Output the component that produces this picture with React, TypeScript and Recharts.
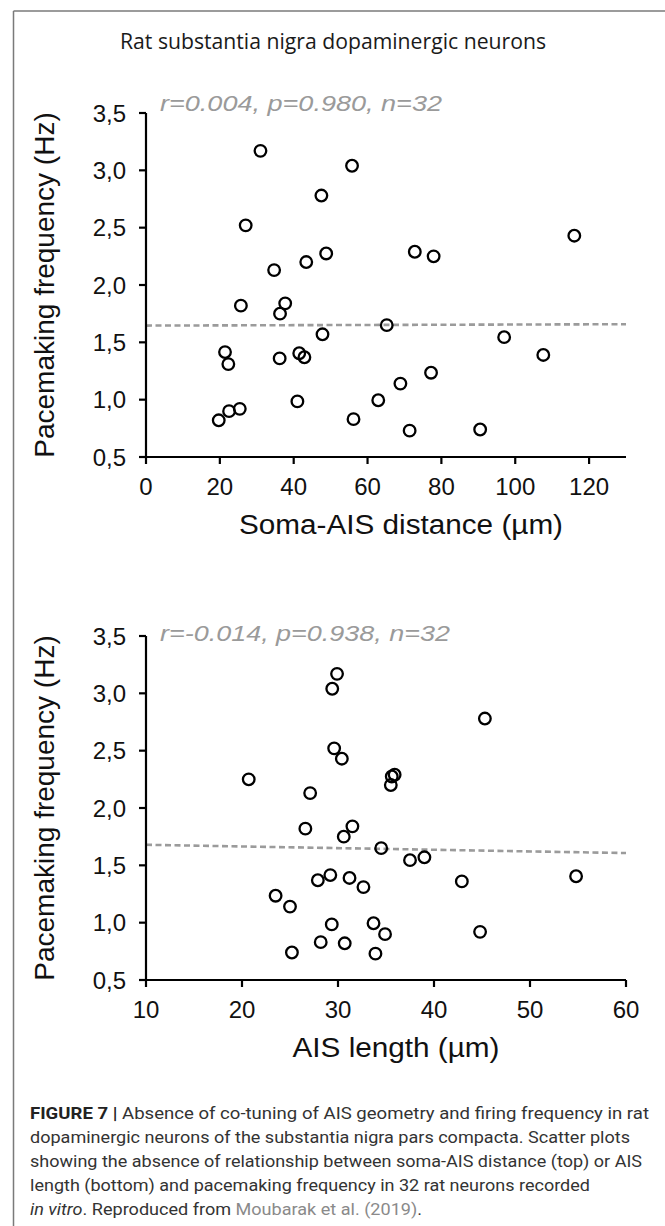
import React from "react";
import { ScatterChart, Scatter, XAxis, YAxis, ReferenceLine } from "recharts";

// pacemaking frequency of the 32 rat SNc neurons (Hz)
const freqHz = [
  3.17, 3.04, 2.78, 2.52, 2.43, 2.29, 2.275, 2.25, 2.2, 2.13, 1.84, 1.82, 1.75, 1.65, 1.57, 1.545,
  1.415, 1.405, 1.39, 1.37, 1.36, 1.31, 1.235, 1.14, 0.995, 0.985, 0.92, 0.9, 0.83, 0.82, 0.74, 0.73,
];
// soma-AIS distance (µm), same neuron order
const somaAisDist = [
  31.0, 55.8, 47.5, 27.0, 116.0, 72.8, 48.8, 77.9, 43.4, 34.7, 37.7, 25.7, 36.3, 65.2, 47.8, 97.0,
  21.4, 41.5, 107.6, 42.9, 36.2, 22.3, 77.2, 68.9, 62.9, 41.0, 25.4, 22.5, 56.2, 19.7, 90.5, 71.4,
];
// AIS length (µm), same neuron order
const aisLength = [
  29.9, 29.4, 45.3, 29.6, 30.4, 35.9, 35.6, 20.7, 35.5, 27.1, 31.5, 26.6, 30.6, 34.5, 39.0, 37.5,
  29.2, 54.8, 31.2, 27.9, 42.9, 32.65, 23.5, 25.0, 33.7, 29.35, 44.8, 34.9, 28.2, 30.7, 25.2, 33.9,
];

// linear fits (end points)
const distFitX = [0, 130];
const distFitY = [1.646, 1.658];
const lenFitX = [10, 60];
const lenFitY = [1.679, 1.607];

const freqTicks = [0.5, 1.0, 1.5, 2.0, 2.5, 3.0, 3.5];
const distTicks = [0, 20, 40, 60, 80, 100, 120];
const lenTicks = [10, 20, 30, 40, 50, 60];

const topStats = "r=0.004, p=0.980, n=32";
const bottomStats = "r=-0.014, p=0.938, n=32";

const distData = somaAisDist.map((x, i) => ({ x, y: freqHz[i] }));
const lenData = aisLength.map((x, i) => ({ x, y: freqHz[i] }));

const FONT = "'Liberation Sans', Arial, sans-serif";
const fmtComma = (v: number) => v.toFixed(1).replace(".", ",");

const Ring = (props: any) => {
  if (props.cx == null || props.cy == null) return null;
  return <circle cx={props.cx} cy={props.cy} r={5.8} fill="none" stroke="#000" strokeWidth={2.3} />;
};

const yLabel = (props: any) => {
  const vb = props.viewBox || {};
  const cy = vb.y + vb.height / 2;
  return (
    <text
      x={54}
      y={cy}
      transform={`rotate(-90 54 ${cy})`}
      textAnchor="middle"
      fontSize={28}
      fontFamily={FONT}
      fill="#111"
    >
      Pacemaking frequency (Hz)
    </text>
  );
};

const xLabel = (text: string, cx: number, w: number) => (props: any) => {
  const vb = props.viewBox || {};
  return (
    <text
      x={cx - w / 2}
      y={vb.y + 77}
      textLength={w}
      lengthAdjust="spacingAndGlyphs"
      fontSize={27}
      fontFamily={FONT}
      fill="#111"
    >
      {text}
    </text>
  );
};

type PanelProps = {
  data: { x: number; y: number }[];
  domain: [number, number];
  ticks: number[];
  fitX: number[];
  fitY: number[];
  title: string;
  titleX: number;
  titleW: number;
};

const Panel = ({ data, domain, ticks, fitX, fitY, title, titleX, titleW }: PanelProps) => (
  <ScatterChart width={665} height={560} margin={{ top: 113, right: 39, bottom: 0, left: 0 }}>
    <XAxis
      type="number"
      dataKey="x"
      domain={domain}
      ticks={ticks}
      interval={0}
      height={103}
      axisLine={{ stroke: "#000", strokeWidth: 2.2 }}
      tickLine={{ stroke: "#000", strokeWidth: 2.2 }}
      tickSize={7}
      tickMargin={14}
      tick={{ fontSize: 24, fill: "#111", fontFamily: FONT }}
      label={xLabel(title, titleX, titleW)}
    />
    <YAxis
      type="number"
      dataKey="y"
      domain={[0.5, 3.5]}
      ticks={freqTicks}
      interval={0}
      width={146}
      tickFormatter={fmtComma}
      axisLine={{ stroke: "#000", strokeWidth: 2.2 }}
      tickLine={{ stroke: "#000", strokeWidth: 2.2 }}
      tickSize={7}
      tickMargin={13}
      tick={{ fontSize: 24, fill: "#111", fontFamily: FONT }}
      label={yLabel}
    />
    <ReferenceLine
      segment={[
        { x: fitX[0], y: fitY[0] },
        { x: fitX[1], y: fitY[1] },
      ]}
      stroke="#9b9b9b"
      strokeWidth={2.6}
      strokeDasharray="6 3.5"
    />
    <Scatter data={data} shape={Ring} isAnimationActive={false} />
  </ScatterChart>
);

const CAP = "Roboto, 'Open Sans', sans-serif";

export default function App() {
  return (
    <div style={{ position: "absolute", left: 0, top: 0, width: 665, height: 1226, background: "#fff" }}>
      <div style={{ position: "absolute", left: 0, top: 0 }}>
        <Panel
          data={distData}
          domain={[0, 130]}
          ticks={distTicks}
          fitX={distFitX}
          fitY={distFitY}
          title="Soma-AIS distance (µm)"
          titleX={401}
          titleW={324}
        />
      </div>
      <div style={{ position: "absolute", left: 0, top: 523 }}>
        <Panel
          data={lenData}
          domain={[10, 60]}
          ticks={lenTicks}
          fitX={lenFitX}
          fitY={lenFitY}
          title="AIS length (µm)"
          titleX={396}
          titleW={207}
        />
      </div>
      <svg
        width={665}
        height={1226}
        style={{ position: "absolute", left: 0, top: 0, pointerEvents: "none" }}
      >
        <line x1={13.5} y1={11} x2={665} y2={11} stroke="#7a7a7a" strokeWidth={1.5} />
        <line x1={13.5} y1={11} x2={13.5} y2={1226} stroke="#7a7a7a" strokeWidth={1.5} />
        <text
          x={120}
          y={49}
          textLength={426}
          lengthAdjust="spacingAndGlyphs"
          fontSize={22}
          fontFamily="'Open Sans', sans-serif"
          fill="#1a1a1a"
        >
          Rat substantia nigra dopaminergic neurons
        </text>
        <text
          x={160}
          y={111}
          textLength={282}
          lengthAdjust="spacingAndGlyphs"
          fontSize={22.5}
          fontStyle="italic"
          fontFamily={FONT}
          fill="#9a9a9a"
        >
          {topStats}
        </text>
        <text
          x={160}
          y={641}
          textLength={290}
          lengthAdjust="spacingAndGlyphs"
          fontSize={22.5}
          fontStyle="italic"
          fontFamily={FONT}
          fill="#9a9a9a"
        >
          {bottomStats}
        </text>
        <g fontFamily={CAP} fontSize={17} fill="#333">
          <text x={30} y={1119} textLength={619} lengthAdjust="spacingAndGlyphs">
            <tspan fontWeight="bold" fill="#222">FIGURE 7</tspan>
            <tspan fontWeight="bold" fill="#222">{"  |  "}</tspan>
            Absence of co-tuning of AIS geometry and firing frequency in rat
          </text>
          <text x={30} y={1143} textLength={600} lengthAdjust="spacingAndGlyphs">
            dopaminergic neurons of the substantia nigra pars compacta. Scatter plots
          </text>
          <text x={30} y={1167} textLength={612} lengthAdjust="spacingAndGlyphs">
            showing the absence of relationship between soma-AIS distance (top) or AIS
          </text>
          <text x={30} y={1191} textLength={560} lengthAdjust="spacingAndGlyphs">
            length (bottom) and pacemaking frequency in 32 rat neurons recorded
          </text>
          <text x={30} y={1215} textLength={392} lengthAdjust="spacingAndGlyphs">
            <tspan fontStyle="italic">in vitro</tspan>
            {". Reproduced from "}
            <tspan fill="#8a8a8a">Moubarak et al. (2019)</tspan>.
          </text>
        </g>
      </svg>
    </div>
  );
}
